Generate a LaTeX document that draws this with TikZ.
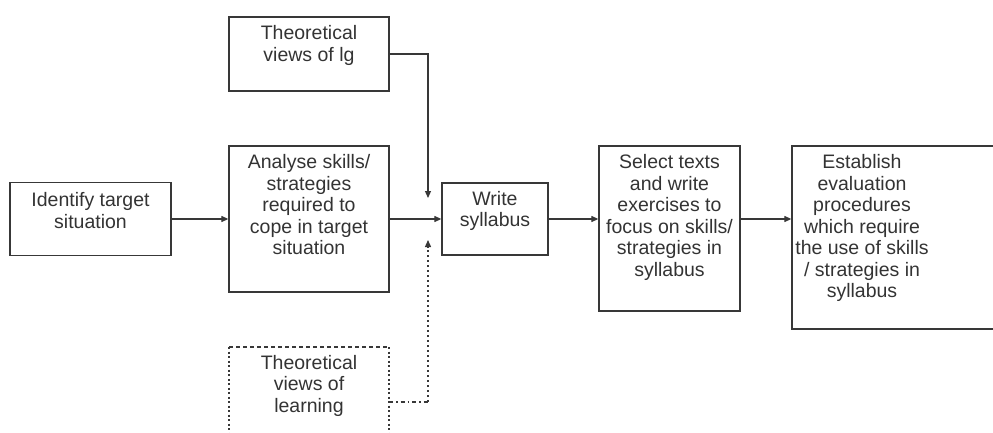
\documentclass[tikz,border=0pt]{standalone}
\usepackage{fontspec}
\setmainfont{Liberation Sans}
\usetikzlibrary{arrows.meta}
\definecolor{ln}{gray}{0.22}
\definecolor{tx}{gray}{0.2}
\begin{document}
\begin{tikzpicture}[x=1pt,y=-1pt,
  box/.style={draw=ln,line width=1.3pt,rectangle,inner sep=0pt},
  txt/.style={anchor=north,align=center,text=tx,inner sep=0pt,font=\fontsize{19.5}{21.5}\selectfont},
  conn/.style={draw=ln,line width=1.2pt,-{Triangle[length=7pt,width=6pt]}},
  dconn/.style={draw=ln,line width=1.3pt,dash pattern=on 2.5pt off 2.5pt,-{Triangle[length=7pt,width=6pt]}}]
\useasboundingbox (0,0) rectangle (993,433);
\clip (0,0) rectangle (993,433);
% boxes
\node[box,minimum width=161,minimum height=73] (id) at (90.5,219) {};
\node[txt] at (90.5,192.5) {Identify target\\situation};
\node[box,minimum width=160,minimum height=74] (lg) at (309,54) {};
\node[txt] at (309,25.5) {Theoretical\\views of lg};
\node[box,minimum width=160,minimum height=146] (an) at (309,219) {};
\node[txt] at (309,154.5) {Analyse skills/\\strategies\\required to\\cope in target\\situation};
\node[box,minimum width=106,minimum height=72] (sy) at (495,219) {};
\node[txt] at (495,191) {Write\\syllabus};
\node[box,minimum width=141,minimum height=165] (se) at (669.5,228.5) {};
\node[txt] at (669.5,154.5) {Select texts\\and write\\exercises to\\focus on skills/\\strategies in\\syllabus};
\node[box,minimum width=210,minimum height=183] (es) at (897,237.5) {};
\node[txt] at (862,154.5) {Establish\\evaluation\\procedures\\which require\\the use of skills\\/ strategies in\\syllabus};
% learning box (dashed, open at the bottom edge of the picture)
\node[txt] at (309,355) {Theoretical\\views of\\learning};
\draw[draw=ln,line width=1.3pt,dash pattern=on 4pt off 3pt] (229,347) -- (389,347);
\draw[draw=ln,line width=1.3pt,dash pattern=on 2pt off 2.5pt] (229,347) -- (229,440);
\draw[draw=ln,line width=1.3pt,dash pattern=on 2pt off 2.5pt] (389,347) -- (389,440);
\coordinate (lr) at (389,402);
% connectors
\coordinate (jt) at (428,198);
\coordinate (jb) at (428,240);
\draw[conn] (id.east) -- (an.west);
\draw[conn] (an.east) -- (sy.west);
\draw[conn] (sy.east) -- (se.west |- sy.east);
\draw[conn] (se.east |- sy.east) -- (es.west |- sy.east);
\draw[conn] (lg.east) -| (jt);
\draw[draw=ln,line width=1.3pt,dash pattern=on 4pt off 3pt on 1.5pt off 3pt] (lr) -- (jb |- lr);
\draw[dconn] (jb |- lr) -- (jb);
\end{tikzpicture}
\end{document}
